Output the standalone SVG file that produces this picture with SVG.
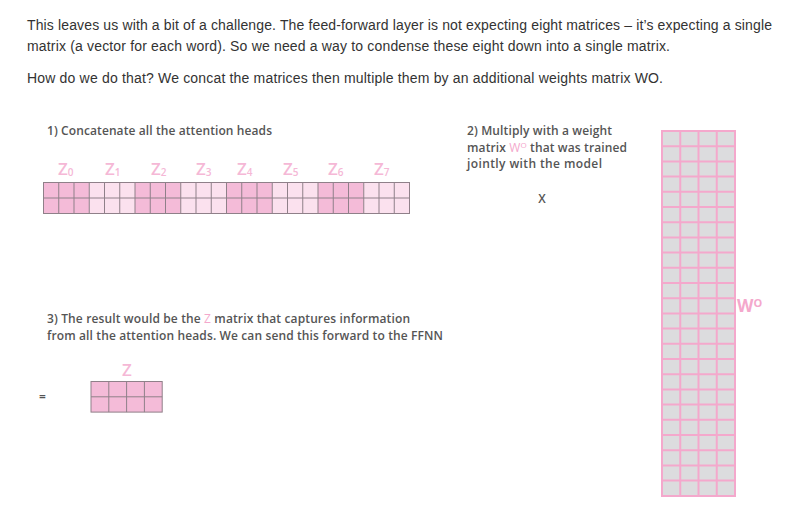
<svg xmlns="http://www.w3.org/2000/svg" width="792" height="510" viewBox="0 0 792 510">
<style>
.intro{font-family:"Liberation Sans",Arial,sans-serif;font-size:14px;fill:#333}
.lbl{font-family:"Open Sans","Noto Sans",sans-serif;font-size:12px;font-weight:600;fill:#555}
.zl{font-family:"Open Sans","Noto Sans",sans-serif;font-size:17px;font-weight:600;fill:#f5b8d6}
.zs{font-size:10px}
.pink{fill:#f4a8cc}
.dk{fill:#f4bbd8}
.lt{fill:#fbe1ee}
.grid{stroke:#8f8089;stroke-width:1;fill:none}
.wgrid{stroke:#f4a8cc;stroke-width:2;fill:none}
</style>
<rect width="792" height="510" fill="#fff"/>
<g id="intro">
<text class="intro" x="27" y="30" textLength="745" lengthAdjust="spacing">This leaves us with a bit of a challenge. The feed-forward layer is not expecting eight matrices – it’s expecting a single</text>
<text class="intro" x="27" y="50.5" textLength="643" lengthAdjust="spacing">matrix (a vector for each word). So we need a way to condense these eight down into a single matrix.</text>
<text class="intro" x="27" y="82.5" textLength="636" lengthAdjust="spacing">How do we do that? We concat the matrices then multiple them by an additional weights matrix WO.</text>
</g>
<g id="step1">
<text class="lbl" x="47" y="135" textLength="225" lengthAdjust="spacing">1) Concatenate all the attention heads</text>
<g id="concat-labels">
<text class="zl" x="58" y="175">Z<tspan class="zs" dy="1">0</tspan></text>
<text class="zl" x="105" y="175">Z<tspan class="zs" dy="1">1</tspan></text>
<text class="zl" x="151" y="175">Z<tspan class="zs" dy="1">2</tspan></text>
<text class="zl" x="196" y="175">Z<tspan class="zs" dy="1">3</tspan></text>
<text class="zl" x="237" y="175">Z<tspan class="zs" dy="1">4</tspan></text>
<text class="zl" x="283" y="175">Z<tspan class="zs" dy="1">5</tspan></text>
<text class="zl" x="328" y="175">Z<tspan class="zs" dy="1">6</tspan></text>
<text class="zl" x="374" y="175">Z<tspan class="zs" dy="1">7</tspan></text>
</g>
<g id="concat-matrix">
<rect class="dk" x="43.5" y="182.5" width="45.75" height="31"/>
<rect class="lt" x="89.25" y="182.5" width="45.75" height="31"/>
<rect class="dk" x="135" y="182.5" width="45.75" height="31"/>
<rect class="lt" x="180.75" y="182.5" width="45.75" height="31"/>
<rect class="dk" x="226.5" y="182.5" width="45.75" height="31"/>
<rect class="lt" x="272.25" y="182.5" width="45.75" height="31"/>
<rect class="dk" x="318" y="182.5" width="45.75" height="31"/>
<rect class="lt" x="363.75" y="182.5" width="45.75" height="31"/>
<rect class="grid" x="43.5" y="182.5" width="366" height="31"/>
<path class="grid" d="M43.5 198H409.5M58.75 182.5V213.5M74 182.5V213.5M89.25 182.5V213.5M104.5 182.5V213.5M119.75 182.5V213.5M135 182.5V213.5M150.25 182.5V213.5M165.5 182.5V213.5M180.75 182.5V213.5M196 182.5V213.5M211.25 182.5V213.5M226.5 182.5V213.5M241.75 182.5V213.5M257 182.5V213.5M272.25 182.5V213.5M287.5 182.5V213.5M302.75 182.5V213.5M318 182.5V213.5M333.25 182.5V213.5M348.5 182.5V213.5M363.75 182.5V213.5M379 182.5V213.5M394.25 182.5V213.5"/>
</g>
</g>
<g id="step2">
<text class="lbl" x="467" y="135" textLength="145" lengthAdjust="spacing">2) Multiply with a weight</text>
<text class="lbl" x="467" y="151.5" textLength="160" lengthAdjust="spacing">matrix <tspan class="pink" font-weight="400">W</tspan><tspan class="pink" font-weight="400" font-size="8" dy="-4">O</tspan><tspan dy="4"> that was trained</tspan></text>
<text class="lbl" x="467" y="168" textLength="135" lengthAdjust="spacing">jointly with the model</text>
<text class="lbl" x="542" y="203" text-anchor="middle" font-weight="400">X</text>
</g>
<g id="wo-matrix">
<rect x="662" y="131" width="73" height="365" fill="#dcdcde"/>
<rect class="wgrid" x="662" y="131" width="73" height="365"/>
<path class="wgrid" d="M680.25 131V496M698.5 131V496M716.75 131V496M662 146.2H735M662 161.4H735M662 176.6H735M662 191.8H735M662 207H735M662 222.2H735M662 237.4H735M662 252.6H735M662 267.8H735M662 283H735M662 298.2H735M662 313.4H735M662 328.6H735M662 343.8H735M662 359H735M662 374.2H735M662 389.4H735M662 404.6H735M662 419.8H735M662 435H735M662 450.2H735M662 465.4H735M662 480.6H735"/>
<text x="737" y="312" font-family="'Open Sans','Noto Sans',sans-serif" font-size="17" font-weight="700" class="pink">W<tspan font-size="11" dy="-5">O</tspan></text>
</g>
<g id="step3">
<text class="lbl" x="47" y="323" textLength="363" lengthAdjust="spacing">3) The result would be the <tspan class="pink" font-weight="400">Z</tspan> matrix that captures information</text>
<text class="lbl" x="47" y="339.5" textLength="396" lengthAdjust="spacing">from all the attention heads. We can send this forward to the FFNN</text>
<text class="lbl" x="42.5" y="401" text-anchor="middle" font-weight="400">=</text>
<text class="zl" x="127" y="376" text-anchor="middle">Z</text>
<g id="z-matrix">
<rect x="91" y="381.5" width="71.2" height="30.6" fill="#f4bbd8"/>
<rect class="grid" x="91" y="381.5" width="71.2" height="30.6"/>
<path class="grid" d="M91 396.8H162.2M108.8 381.5V412.1M126.6 381.5V412.1M144.4 381.5V412.1"/>
</g>
</g>
</svg>
